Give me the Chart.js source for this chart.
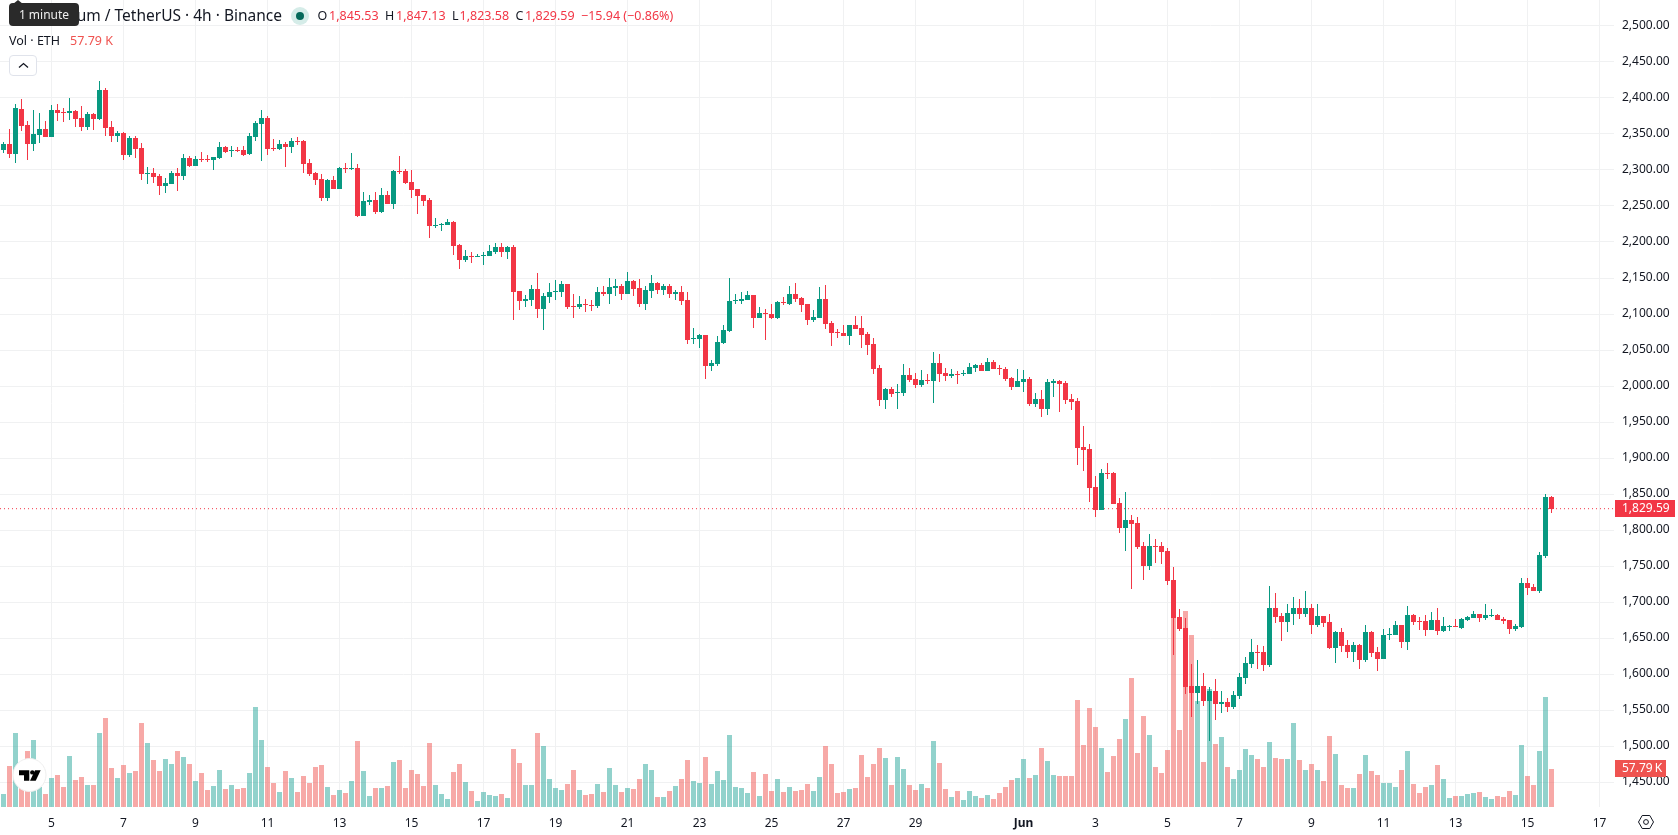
<!DOCTYPE html>
<html lang="en">
<head>
<meta charset="utf-8">
<title>Ethereum / TetherUS 4h</title>
<script src="https://cdn.jsdelivr.net/npm/chart.js@4/dist/chart.umd.min.js"></script>
<style>
  html, body { margin: 0; padding: 0; background: #fff; overflow: hidden; }
  body { width: 1678px; height: 835px; position: relative; font-family: "Noto Sans", sans-serif; color: #131722; }
  canvas { position: absolute; left: 0; top: 0; }
  .abs { position: absolute; white-space: nowrap; line-height: 1; }
  .up { color: #f23645; }
  #tooltip { left: 9px; top: 3px; width: 70px; height: 23px; background: #2a2a2a; color: #eee; border-radius: 4px; font-size: 12px; line-height: 23px; text-align: center; }
  #tooltipTip { left: 13px; top: 0; width: 0; height: 0; border-left: 5px solid transparent; border-right: 5px solid transparent; border-bottom: 4px solid #2a2a2a; }
  #title { left: 0; top: 8px; width: 282px; text-align: right; font-size: 15.5px; }
  #live { left: 291px; top: 7px; width: 18px; height: 18px; border-radius: 50%; background: #d5ece8; }
  #live i { position: absolute; left: 5px; top: 5px; width: 8px; height: 8px; border-radius: 50%; background: #06695a; }
  .ohlc { top: 10px; font-size: 12.5px; }
  .vol { top: 34.5px; font-size: 12.5px; }
  #collapse { left: 9px; top: 55px; width: 28px; height: 21px; box-sizing: border-box; border: 1px solid #e0e3eb; border-radius: 4px; background: #fff; }
</style>
</head>
<body>
<canvas id="chart" width="1678" height="835"></canvas>

<div class="abs" id="title">Ethereum / TetherUS · 4h · Binance</div>
<div class="abs" id="tooltipTip"></div>
<div class="abs" id="tooltip">1 minute</div>
<div class="abs" id="live"><i></i></div>
<div class="abs ohlc" style="left:317.5px">O</div><div class="abs ohlc up" style="left:329px">1,845.53</div>
<div class="abs ohlc" style="left:385px">H</div><div class="abs ohlc up" style="left:396px">1,847.13</div>
<div class="abs ohlc" style="left:452px">L</div><div class="abs ohlc up" style="left:459.5px">1,823.58</div>
<div class="abs ohlc" style="left:515.5px">C</div><div class="abs ohlc up" style="left:525px">1,829.59</div>
<div class="abs ohlc up" style="left:581px">−15.94 (−0.86%)</div>
<div class="abs vol" style="left:9px">Vol · ETH</div>
<div class="abs vol" style="left:70px;color:#ef5350">57.79 K</div>

<div class="abs" id="collapse">
  <svg width="26" height="19" viewBox="0 0 26 19" style="display:block"><path d="M9 11.5 L13.5 7.5 L18 11.5" fill="none" stroke="#131722" stroke-width="1.3"/></svg>
</div>

<svg class="abs" style="left:12px;top:758px" width="36" height="36" viewBox="0 0 36 36">
  <circle cx="17.5" cy="17" r="16.5" fill="#fff" stroke="#eeeeee" stroke-width="1"/>
  <path d="M7 12.3 H17.3 V22.7 H12 V17.3 H7 Z" fill="#000"/>
  <circle cx="20.3" cy="14.4" r="2.2" fill="#000"/>
  <path d="M23 12.3 H28.7 L23.7 22.7 H18 Z" fill="#000"/>
</svg>

<svg class="abs" style="left:1637px;top:813px" width="18" height="18" viewBox="0 0 18 18">
  <path d="M1.5 9 L5.2 2.5 H12.8 L16.5 9 L12.8 15.5 H5.2 Z" fill="none" stroke="#131722" stroke-width="1"/>
  <circle cx="9" cy="9" r="2.4" fill="none" stroke="#131722" stroke-width="1"/>
</svg>

<script>
// 4h ETH/USDT candles, oldest first. Volumes are in thousands of ETH.
const opens = [
  2328,2336,2322,2385,2362,2336,2349,2357,2346,2383,
  2381,2379,2382,2372,2360,2378,2371,2411,2360,2347,
  2351,2321,2344,2331,2294,2296,2292,2278,2281,2296,
  2292,2317,2306,2315,2315,2314,2317,2332,2326,2328,
  2328,2322,2346,2364,2372,2331,2329,2336,2332,2340,
  2340,2310,2296,2287,2261,2286,2274,2303,2301,2303,
  2236,2255,2258,2242,2265,2253,2299,2299,2283,2274,
  2265,2258,2222,2224,2224,2228,2196,2175,2181,2179,
  2181,2181,2186,2193,2186,2193,2132,2118,2119,2135,
  2107,2124,2131,2131,2142,2111,2110,2114,2112,2111,
  2131,2128,2136,2139,2128,2146,2136,2114,2132,2143,
  2133,2139,2128,2131,2119,2065,2065,2071,2028,2031,
  2060,2076,2118,2118,2119,2126,2094,2101,2100,2094,
  2117,2114,2128,2122,2114,2092,2094,2121,2087,2075,
  2074,2069,2085,2081,2072,2058,2025,1981,1996,1990,
  1990,2015,2010,2001,2008,2007,2032,2018,2014,2017,
  2016,2016,2025,2029,2021,2033,2025,2024,2011,1999,
  2006,2010,1975,1982,1968,2004,2007,2004,1982,1979,
  1915,1912,1860,1828,1879,1879,1837,1803,1814,1810,
  1778,1750,1778,1778,1771,1731,1679,1664,1583,1574,
  1583,1562,1576,1558,1561,1554,1569,1594,1614,1631,
  1631,1612,1692,1681,1672,1683,1692,1683,1692,1668,
  1681,1672,1636,1658,1640,1631,1640,1619,1658,1631,
  1621,1654,1654,1668,1644,1682,1673,1673,1661,1675,
  1660,1665,1667,1664,1675,1678,1683,1678,1681,1682,
  1676,1675,1662,1665,1726,1721,1715,1764,1845.53
];
const highs = [
  2339,2357,2392,2399,2368,2383,2379,2368,2390,2392,
  2386,2400,2383,2389,2381,2379,2424,2414,2368,2354,
  2353,2347,2347,2337,2304,2303,2294,2289,2299,2303,
  2322,2319,2319,2325,2321,2318,2339,2333,2333,2332,
  2333,2351,2368,2383,2375,2343,2342,2339,2344,2346,
  2342,2315,2297,2294,2287,2292,2304,2310,2324,2308,
  2269,2265,2269,2275,2271,2300,2319,2301,2300,2274,
  2265,2261,2233,2226,2232,2229,2197,2189,2186,2183,
  2186,2196,2199,2199,2194,2196,2132,2126,2140,2157,
  2129,2143,2147,2146,2142,2128,2125,2121,2119,2137,
  2139,2150,2149,2142,2158,2147,2149,2139,2154,2144,
  2142,2142,2133,2139,2131,2081,2072,2071,2036,2069,
  2085,2150,2128,2131,2132,2126,2110,2107,2114,2118,
  2124,2139,2143,2124,2114,2106,2137,2140,2090,2079,
  2085,2085,2097,2097,2075,2067,2029,1997,1999,2003,
  2031,2025,2018,2022,2017,2047,2044,2025,2024,2021,
  2022,2032,2031,2032,2039,2036,2029,2026,2013,2024,
  2022,2013,1990,1994,2010,2010,2008,2007,1989,1983,
  1944,1919,1875,1885,1893,1881,1844,1853,1821,1818,
  1783,1794,1787,1783,1775,1749,1690,1678,1614,1619,
  1601,1582,1593,1576,1567,1576,1601,1624,1649,1640,
  1639,1722,1712,1685,1697,1707,1704,1715,1697,1697,
  1681,1683,1660,1664,1647,1644,1642,1668,1660,1638,
  1662,1664,1674,1668,1694,1683,1679,1682,1686,1692,
  1679,1668,1676,1678,1681,1688,1683,1697,1690,1683,
  1679,1675,1669,1733,1733,1725,1769,1850,1847.13
];
const lows = [
  2323,2316,2310,2354,2314,2326,2337,2346,2346,2368,
  2367,2369,2360,2354,2355,2355,2369,2347,2339,2339,
  2314,2318,2317,2286,2281,2282,2265,2268,2281,2271,
  2286,2304,2306,2311,2311,2300,2315,2324,2318,2325,
  2319,2321,2340,2312,2321,2326,2328,2304,2324,2335,
  2296,2292,2279,2257,2257,2274,2274,2296,2300,2235,
  2236,2251,2239,2240,2253,2246,2294,2281,2261,2239,
  2250,2206,2219,2215,2224,2182,2163,2172,2171,2179,
  2168,2181,2183,2179,2176,2092,2106,2110,2111,2094,
  2078,2115,2119,2124,2107,2094,2107,2103,2104,2108,
  2125,2114,2125,2119,2128,2125,2110,2106,2122,2128,
  2126,2122,2119,2112,2058,2058,2053,2010,2021,2028,
  2058,2075,2114,2114,2119,2081,2094,2064,2093,2093,
  2112,2112,2117,2103,2085,2089,2094,2079,2056,2067,
  2069,2057,2079,2053,2043,2017,1972,1968,1985,1968,
  1986,2006,1997,1999,2003,1976,2006,2007,2011,2003,
  2014,2016,2019,2021,2021,2024,2015,2007,1994,1999,
  1992,1972,1971,1957,1960,1985,1964,1975,1967,1890,
  1882,1839,1818,1828,1871,1836,1796,1771,1718,1774,
  1731,1744,1754,1753,1724,1626,1660,1572,1540,1558,
  1556,1507,1536,1546,1547,1551,1565,1586,1608,1607,
  1604,1610,1671,1646,1658,1668,1676,1679,1656,1665,
  1665,1635,1615,1631,1622,1617,1607,1617,1624,1604,
  1621,1647,1654,1636,1633,1668,1661,1653,1661,1654,
  1658,1660,1665,1662,1674,1678,1672,1675,1679,1675,
  1669,1655,1660,1664,1710,1715,1712,1761,1823.58
];
const closes = [
  2336,2322,2386,2361,2336,2350,2357,2346,2383,2379,
  2379,2382,2371,2360,2378,2371,2411,2358,2347,2351,
  2321,2344,2329,2294,2296,2290,2278,2282,2296,2292,
  2317,2306,2315,2314,2314,2318,2332,2325,2328,2326,
  2321,2347,2365,2372,2329,2329,2336,2332,2340,2339,
  2308,2294,2286,2261,2286,2274,2303,2301,2303,2236,
  2257,2258,2242,2265,2253,2299,2297,2282,2272,2264,
  2257,2222,2224,2225,2228,2194,2175,2181,2179,2181,
  2182,2188,2193,2186,2193,2131,2118,2121,2135,2107,
  2125,2131,2132,2142,2110,2110,2114,2112,2111,2131,
  2128,2137,2139,2128,2146,2135,2114,2133,2143,2133,
  2139,2128,2131,2118,2064,2067,2071,2028,2032,2061,
  2078,2118,2119,2121,2126,2094,2101,2100,2094,2117,
  2115,2128,2121,2112,2092,2096,2121,2086,2074,2074,
  2069,2085,2079,2071,2057,2024,1981,1996,1989,1992,
  2015,2008,2001,2008,2007,2032,2017,2014,2017,2015,
  2018,2026,2029,2021,2033,2024,2024,2010,1999,2007,
  2010,1975,1982,1968,2006,2007,2003,1981,1978,1914,
  1911,1858,1828,1879,1878,1836,1803,1814,1808,1776,
  1750,1778,1776,1769,1729,1678,1662,1582,1574,1583,
  1562,1576,1558,1561,1554,1571,1596,1615,1631,1629,
  1612,1692,1679,1672,1685,1692,1683,1692,1668,1681,
  1671,1636,1658,1639,1631,1640,1619,1658,1629,1621,
  1654,1656,1668,1644,1682,1672,1672,1661,1675,1660,
  1667,1667,1665,1676,1679,1683,1678,1682,1682,1675,
  1674,1662,1667,1726,1719,1715,1765,1846,1829.59
];
const volumes = [
  19.8,62.4,112.5,41.1,85.2,101.9,30.9,19.8,44.1,48.7,
  30.4,77.6,41.1,45.6,33.5,33.5,112.5,135.3,59.3,44.1,
  63.9,51.7,54.7,127.7,97.3,71.5,54.7,73.0,65.4,85.2,
  76.0,65.4,39.5,51.7,25.9,31.9,56.3,27.4,33.5,27.4,
  28.9,51.7,152.1,101.9,60.8,36.5,22.8,54.7,44.1,22.8,
  47.1,36.5,60.8,63.9,30.4,18.2,25.9,21.3,39.5,100.4,
  54.7,16.7,28.9,28.9,31.9,68.4,71.5,28.9,56.3,50.2,
  31.9,97.3,33.5,19.8,12.2,53.2,65.4,38.0,24.3,9.1,
  22.8,18.2,16.7,19.8,13.7,88.2,66.9,33.5,33.5,112.5,
  92.8,42.6,28.9,25.9,35.0,56.3,25.9,18.2,19.8,35.0,
  22.8,59.3,33.5,22.8,28.9,27.4,42.6,65.4,56.3,15.2,
  15.2,24.3,31.9,42.6,71.5,39.5,36.5,76.0,35.0,54.7,
  41.1,109.5,30.4,28.9,21.3,53.2,16.7,50.2,24.3,42.6,
  22.8,30.4,24.3,25.9,35.0,24.3,45.6,92.8,65.4,21.3,
  22.8,27.4,28.9,79.1,45.6,65.4,89.7,74.5,33.5,76.0,
  57.8,33.5,25.9,35.0,28.9,100.4,66.9,27.4,15.2,24.3,
  10.6,24.3,16.7,13.7,18.2,12.2,21.3,30.4,41.1,44.1,
  73.0,44.1,48.7,89.7,70.0,48.7,47.1,47.1,47.1,162.7,
  94.3,150.5,121.7,89.7,53.2,77.6,103.4,133.8,196.2,82.1,
  138.4,109.5,60.8,51.7,86.7,287.3,117.1,297.9,261.4,161.2,
  68.4,179.4,95.8,106.4,60.8,42.6,56.3,88.2,79.1,73.0,
  60.8,98.8,74.5,73.0,73.0,127.7,71.5,56.3,65.4,56.3,
  39.5,108.0,80.6,33.5,28.9,28.9,50.2,79.1,54.7,48.7,
  36.5,36.5,30.4,56.3,85.2,35.0,21.3,30.4,33.5,63.9,
  42.6,13.7,16.7,16.7,19.8,21.3,22.8,15.2,12.2,16.7,
  15.2,24.3,18.2,94.3,47.1,33.5,85.2,167.3,57.79
];

// Candle indices of the time-axis ticks and what each one reads.
const tickIndices = [8,20,32,44,56,68,80,92,104,116,128,140,152,170,182,194,206,218,230,242,254,266];
const tickLabels = ['5','7','9','11','13','15','17','19','21','23','25','27','29','Jun','3','5','7','9','11','13','15','17'];

const lastPrice = 1829.59;
const lastVolume = 57.79;

const GREEN = '#089981', RED = '#f23645';
const VOL_GREEN = 'rgba(38,166,154,0.5)', VOL_RED = 'rgba(239,83,80,0.5)';
const isUp = i => closes[i] >= opens[i];
const indices = opens.map((_, i) => i);

// Snap bar edges to whole pixels so candles stay crisp; dojis keep a 1px body.
const crispBars = {
  id: 'crispBars',
  afterDatasetsUpdate(chart) {
    chart.data.datasets.forEach((ds, k) => {
      if (ds.type !== 'bar') return;
      chart.getDatasetMeta(k).data.forEach(el => {
        el.y = Math.round(el.y);
        el.base = Math.round(el.base);
        if (el.y === el.base) el.base = el.y + 1;
      });
    });
  }
};

// Value tags sitting on the right-hand price scale.
const scaleTags = {
  id: 'scaleTags',
  afterDraw(chart) {
    const { ctx, scales } = chart;
    const tag = (y, width, bg, text) => {
      const h = 17, x = 1615, top = Math.round(y - h / 2);
      ctx.save();
      ctx.fillStyle = bg;
      ctx.fillRect(x, top, width, h);
      ctx.fillStyle = '#fff';
      ctx.font = '12px "Noto Sans"';
      ctx.textBaseline = 'middle';
      ctx.textAlign = 'left';
      ctx.fillText(text, x + 7, top + h / 2 + 0.5);
      ctx.restore();
    };
    tag(scales.vol.getPixelForValue(lastVolume), 51, '#ef5350', '57.79\u2009K');
    tag(scales.y.getPixelForValue(lastPrice), 60, RED, '1,829.59');
  }
};

new Chart(document.getElementById('chart'), {
  type: 'bar',
  data: {
    datasets: [
      {
        type: 'bar', label: 'Volume', yAxisID: 'vol', order: 4, grouped: false, barThickness: 5, inflateAmount: 0,
        data: indices.map(i => ({ x: i, y: volumes[i] })),
        backgroundColor: indices.map(i => isUp(i) ? VOL_GREEN : VOL_RED)
      },
      {
        type: 'line', label: 'Last price', yAxisID: 'y', order: 3,
        data: [{ x: -0.58333, y: lastPrice }, { x: 268.41667, y: lastPrice }],
        borderColor: RED, borderWidth: 1, borderDash: [1, 3], pointRadius: 0, fill: false
      },
      {
        type: 'bar', label: 'Wicks', yAxisID: 'y', order: 2, grouped: false, barThickness: 1, inflateAmount: 0,
        data: indices.map(i => ({ x: i, y: [lows[i], highs[i]] })),
        backgroundColor: indices.map(i => isUp(i) ? GREEN : RED)
      },
      {
        type: 'bar', label: 'Bodies', yAxisID: 'y', order: 1, grouped: false, barThickness: 5, inflateAmount: 0,
        data: indices.map(i => ({ x: i, y: [opens[i], closes[i]] })),
        backgroundColor: indices.map(i => isUp(i) ? GREEN : RED)
      }
    ]
  },
  options: {
    responsive: false,
    animation: false,
    events: [],
    layout: { padding: 0 },
    plugins: { legend: { display: false }, tooltip: { enabled: false } },
    scales: {
      x: {
        type: 'linear',
        offset: false,
        min: -0.58333,
        max: 268.41667,
        afterBuildTicks(scale) { scale.ticks = tickIndices.map(value => ({ value })); },
        afterFit(scale) { scale.height = 28; scale.paddingLeft = 0; scale.paddingRight = 0; },
        grid: { color: '#f0f1f2', drawTicks: false, offset: false },
        border: { display: false },
        ticks: {
          autoSkip: false, maxRotation: 0, padding: 9, color: '#131722',
          font: ctx => ({ family: '"Noto Sans"', size: 12, weight: ctx.index === tickLabels.indexOf('Jun') ? 'bold' : 'normal' }),
          callback: (value) => tickLabels[tickIndices.indexOf(value)]
        }
      },
      y: {
        type: 'linear',
        position: 'right',
        min: 1415.28,
        max: 2536.11,
        afterFit(scale) { scale.width = 64; scale.paddingTop = 0; scale.paddingBottom = 0; },
        grid: { color: '#f0f1f2', drawTicks: false },
        border: { display: false },
        ticks: {
          stepSize: 50, includeBounds: false, padding: 8, color: '#131722',
          font: { family: '"Noto Sans"', size: 12 },
          callback: v => v.toLocaleString('en-US', { minimumFractionDigits: 2, maximumFractionDigits: 2 })
        }
      },
      vol: {
        type: 'linear', display: false, min: 0, max: 1226.6, grid: { display: false }
      }
    }
  },
  plugins: [crispBars, scaleTags]
});
</script>
</body>
</html>
